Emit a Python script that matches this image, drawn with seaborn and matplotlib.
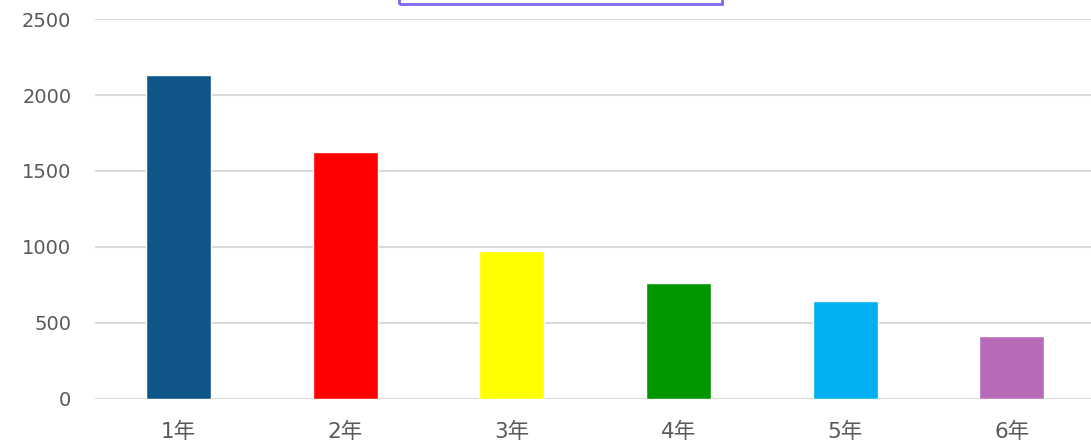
import matplotlib
matplotlib.use("Agg")
import matplotlib.pyplot as plt
import seaborn as sns
import pandas as pd
from matplotlib.patches import Rectangle

# data
years = ["1年", "2年", "3年", "4年", "5年", "6年"]
values = [2130, 1622, 972, 760, 642, 412]
colors = ["#10558A", "#FF0000", "#FFFF00", "#009600", "#00B0F0", "#B76AB7"]
yticks = [0, 500, 1000, 1500, 2000, 2500]

df = pd.DataFrame({"year": years, "value": values})

sns.set_theme(style="white")
plt.rcParams["font.family"] = ["DejaVu Sans", "Noto Sans CJK SC"]

fig = plt.figure(figsize=(10.91, 4.48), dpi=100)
ax = fig.add_axes([95 / 1091, 49.5 / 448, 1000 / 1091, 379.2 / 448])

sns.barplot(data=df, x="year", y="value", hue="year", palette=colors,
            width=0.39, legend=False, saturation=1, ax=ax, zorder=3)

ax.set_ylim(0, 2500)
ax.set_yticks(yticks)
ax.set_xlabel("")
ax.set_ylabel("")
ax.grid(axis="y", color="#D9D9D9", linewidth=1.5, zorder=0)
for s in ax.spines.values():
    s.set_visible(False)
ax.tick_params(axis="both", length=0, labelcolor="#595959")
ax.tick_params(axis="y", pad=17, labelsize=14)
ax.tick_params(axis="x", pad=17, labelsize=15.5)

# title box, cut off at the top of the image
fig.patches.append(Rectangle((399 / 1091, 1 - 4 / 448), 323 / 1091, 0.2,
                             transform=fig.transFigure, fill=False,
                             edgecolor="#7B68EE", linewidth=2))

fig.savefig("out.png", dpi=100)
